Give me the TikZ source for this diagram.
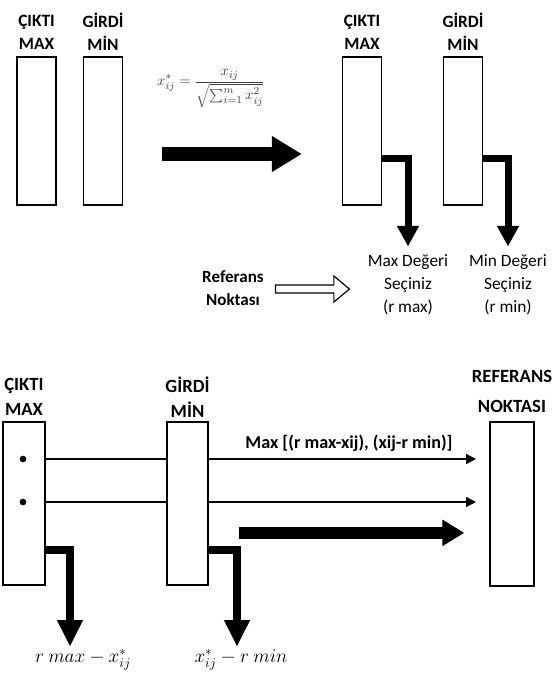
\documentclass[tikz,border=0pt]{standalone}
\usepackage[no-math]{fontspec}
\setmainfont{Carlito}
\usetikzlibrary{arrows.meta,shapes.arrows}

\begin{document}
\begin{tikzpicture}[x=0.75pt, y=-0.75pt,
		saeule/.style={draw, line width=1pt, fill=white, minimum width=29.25pt, minimum height=111pt, inner sep=0pt},
		saeuleb/.style={saeule, minimum width=31.5pt, minimum height=122.25pt},
		kopf/.style={font=\bfseries\fontsize{13}{17}\selectfont, align=center, inner sep=0pt},
		kopfb/.style={font=\bfseries\fontsize{14}{19}\selectfont, align=center, inner sep=0pt},
		schrift/.style={font=\fontsize{13}{17.25}\selectfont, align=center, inner sep=0pt},
		knick/.style={line width=5.25pt, -{Triangle[length=15.5pt, width=15.5pt]}},
		knickb/.style={line width=6pt, -{Triangle[length=20pt, width=18pt]}},
		duenn/.style={line width=1.1pt, -{Triangle[length=7.5pt, width=7.5pt]}},
		punkt/.style={circle, fill, inner sep=0pt, minimum size=5pt},
		mathe/.style={font=\fontsize{14}{17}\selectfont, inner sep=0pt}]
	% Hintergrund
	\fill[white] (0,0) rectangle (560,682);
	\useasboundingbox (0,0) rectangle (560,682);
	% oberer Teil: Saeulen
	\node[saeule] (box1) at (36.5,131) {};
	\node[saeule] (box2) at (103,131) {};
	\node[saeule] (box3) at (362,131) {};
	\node[saeule] (box4) at (463,131) {};
	\node[kopf] (lc1) at (36.5,32) {ÇIKTI\\MAX};
	\node[kopf] (lg1) at (103,32) {GİRDİ\\MİN};
	\node[kopf] (lc2) at (362,32) {ÇIKTI\\MAX};
	\node[kopf] (lg2) at (463,32) {GİRDİ\\MİN};
	% Normalisierung
	\node[text=black!75, inner sep=0pt, font=\fontsize{11}{13}\selectfont] (formel) at (211,89) {$\displaystyle x^*_{ij}=\frac{x_{ij}}{\sqrt{\sum_{i=1}^{m}x_{ij}^2}}$};
	\draw[line width=10.5pt, -{Triangle[length=22.5pt, width=25.5pt]}, shorten <=29.25pt, shorten >=30pt]
		([yshift=-17.25pt]box2.east) -- ([yshift=-17.25pt]box2.east -| box3.west);
	% Auswahl der Werte
	\node[schrift] (maxw) at (408,285) {Max Değeri\\Seçiniz\\(r max)};
	\node[schrift] (minw) at (508,285) {Min Değeri\\Seçiniz\\(r min)};
	\draw[knick, shorten >=6pt] ([yshift=35.25pt]box3.south east) -| (maxw.north);
	\draw[knick, shorten >=6pt] ([yshift=35.25pt]box4.south east) -| (minw.north);
	\node[schrift, font=\bfseries\fontsize{12.8}{17}\selectfont] (ref) at (233,288) {Referans\\Noktası};
	\node[single arrow, draw, line width=0.9pt, fill=white, minimum height=55.5pt, text height=0pt, text depth=0pt,
		inner xsep=0pt, inner ysep=2.6pt, single arrow head extend=6.75pt, single arrow tip angle=80] (pfeil) at (310,289) {};
	% unterer Teil
	\node[saeuleb] (box5) at (24,503.5) {};
	\node[saeuleb, minimum width=30.75pt] (box6) at (187.5,503.5) {};
	\node[saeuleb, minimum width=33pt, minimum height=123pt] (box7) at (512,504) {};
	\node[kopfb] (lc3) at (24,397) {ÇIKTI\\MAX};
	\node[kopfb] (lg3) at (187.5,397) {GİRDİ\\MİN};
	\node[kopfb, font=\bfseries\fontsize{14}{22.5}\selectfont, anchor=south] (lr) at ([yshift=6pt]box7.north) {REFERANS\\NOKTASI};
	\node[punkt] (dot1) at (23,459) {};
	\node[punkt] (dot2) at (23,502) {};
	% Abstaende
	\draw[line width=1.1pt] (dot1 -| box5.east) -- (dot1 -| box6.west);
	\draw[line width=1.1pt] (dot2 -| box5.east) -- (dot2 -| box6.west);
	\draw[duenn, shorten >=10pt] (dot1 -| box6.east) -- node[above=5pt, font=\bfseries\fontsize{13.6}{15}\selectfont, inner sep=0pt] (maxlbl) {Max [(r max-xij), (xij-r min)]} (dot1 -| box7.west);
	\draw[duenn, shorten >=10pt] (dot2 -| box6.east) -- (dot2 -| box7.west);
	\draw[line width=9pt, -{Triangle[length=16.5pt, width=18.75pt]}, shorten <=22.5pt, shorten >=18.75pt]
		([yshift=-22pt]box6.east) -- ([yshift=-22pt]box6.east -| box7.west);
	% Differenzen
	\node[mathe] (rmax) at (83,660) {$r\ max-x^*_{ij}$};
	\node[mathe] (rmin) at (241,660) {$x^*_{ij}-r\ min$};
	\draw[knickb, shorten >=2pt] ([yshift=27pt]box5.south east) -| ([xshift=-9.75pt]rmax.north);
	\draw[knickb, shorten >=2pt] ([yshift=27pt]box6.south east) -| ([xshift=-3pt]rmin.north);
\end{tikzpicture}
\end{document}
